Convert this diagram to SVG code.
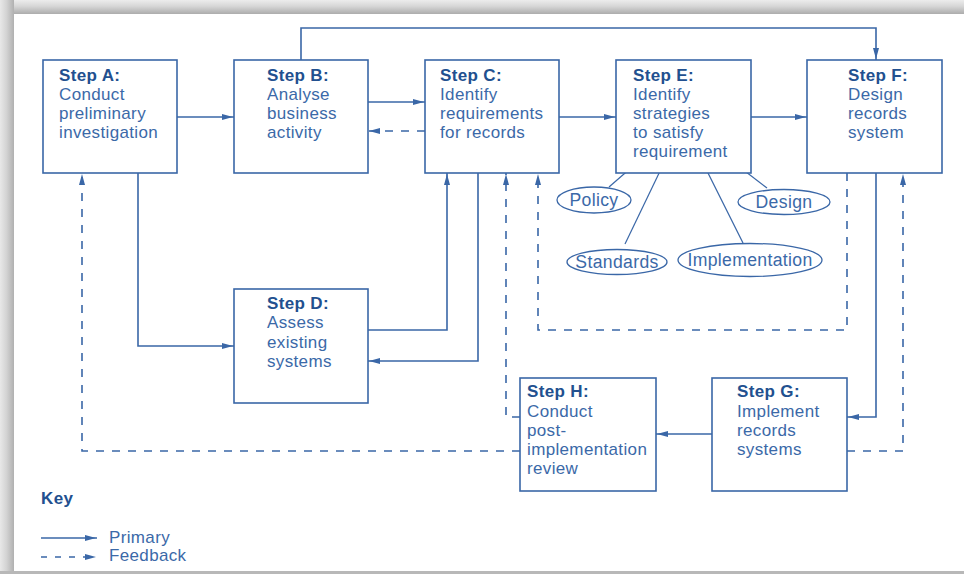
<svg xmlns="http://www.w3.org/2000/svg" width="964" height="574" viewBox="0 0 964 574">
<defs>
<linearGradient id="gTop" x1="0" y1="0" x2="0" y2="1"><stop offset="0" stop-color="#ececec"/><stop offset="0.45" stop-color="#d6d6d6"/><stop offset="1" stop-color="#acacac"/></linearGradient>
<linearGradient id="gLeft" x1="0" y1="0" x2="1" y2="0"><stop offset="0" stop-color="#e8e8e8"/><stop offset="0.45" stop-color="#d4d4d4"/><stop offset="1" stop-color="#b0b0b0"/></linearGradient>
<marker id="ah" markerWidth="11" markerHeight="7" refX="12" refY="3.5" orient="auto" markerUnits="userSpaceOnUse"><path d="M0,0.5 L11,3.5 L0,6.5 Z" fill="#3a67a7"/></marker>
<style>
.box{fill:#fff;stroke:#3a67a7;stroke-width:1.6}
.ell{fill:#fff;stroke:#3a67a7;stroke-width:1.3}
.ln{fill:none;stroke:#3a67a7;stroke-width:1.6}
.dl{fill:none;stroke:#3a67a7;stroke-width:1.6;stroke-dasharray:8 8}
.sp{fill:none;stroke:#3a67a7;stroke-width:1.2}
text{font-family:"Liberation Sans",Arial,sans-serif;font-size:17px;letter-spacing:0.35px}
.t{font-weight:bold;fill:#22508f}
.b{fill:#3b69a8}
.e{font-size:17.6px}
</style>
</defs>
<rect x="0" y="0" width="964" height="574" fill="#fff"/>
<rect x="0" y="0" width="964" height="14" fill="url(#gTop)"/>
<rect x="0" y="0" width="14" height="574" fill="url(#gLeft)"/>
<rect x="0" y="571" width="964" height="3" fill="#b8b8b8"/>

<g id="connectors">
<path class="ln" d="M301,60 V28 H876 V60" marker-end="url(#ah)"/>
<path class="ln" d="M177,117 H234" marker-end="url(#ah)"/>
<path class="ln" d="M368,102 H425" marker-end="url(#ah)"/>
<path class="dl" d="M425,131 H368" marker-end="url(#ah)"/>
<path class="ln" d="M559,117 H616" marker-end="url(#ah)"/>
<path class="ln" d="M751,117 H807" marker-end="url(#ah)"/>
<path class="ln" d="M138,173 V346 H234" marker-end="url(#ah)"/>
<path class="ln" d="M368,330 H447 V173" marker-end="url(#ah)"/>
<path class="ln" d="M478,173 V361 H368" marker-end="url(#ah)"/>
<path class="dl" d="M520,451 H82 V173" marker-end="url(#ah)"/>
<path class="dl" d="M520,417 H506 V173" marker-end="url(#ah)"/>
<path class="dl" d="M847,173 V330 H538 V173" marker-end="url(#ah)"/>
<path class="ln" d="M876,173 V417 H847" marker-end="url(#ah)"/>
<path class="dl" d="M847,451 H903 V173" marker-end="url(#ah)"/>
<path class="ln" d="M712,434 H656" marker-end="url(#ah)"/>
<path class="sp" d="M632,167 L609,187"/>
<path class="sp" d="M662,167 L625,244"/>
<path class="sp" d="M705,167 L743,243"/>
<path class="sp" d="M737,165 L767,188"/>
</g>

<g id="stepA"><rect class="box" x="43" y="60" width="134" height="113"/>
<text x="59" y="81" class="t">Step A:</text><text x="59" y="100" class="b">Conduct</text><text x="59" y="119" class="b">preliminary</text><text x="59" y="138" class="b">investigation</text></g>

<g id="stepB"><rect class="box" x="234" y="60" width="134" height="113"/>
<text x="267" y="81" class="t">Step B:</text><text x="267" y="100" class="b">Analyse</text><text x="267" y="119" class="b">business</text><text x="267" y="138" class="b">activity</text></g>

<g id="stepC"><rect class="box" x="425" y="60" width="134" height="113"/>
<text x="440" y="81" class="t">Step C:</text><text x="440" y="100" class="b">Identify</text><text x="440" y="119" class="b">requirements</text><text x="440" y="138" class="b">for records</text></g>

<g id="stepE"><rect class="box" x="616" y="60" width="135" height="113"/>
<text x="633" y="81" class="t">Step E:</text><text x="633" y="100" class="b">Identify</text><text x="633" y="119" class="b">strategies</text><text x="633" y="138" class="b">to satisfy</text><text x="633" y="157" class="b">requirement</text></g>

<g id="stepF"><rect class="box" x="807" y="60" width="135" height="113"/>
<text x="848" y="81" class="t">Step F:</text><text x="848" y="100" class="b">Design</text><text x="848" y="119" class="b">records</text><text x="848" y="138" class="b">system</text></g>

<g id="stepD"><rect class="box" x="234" y="289" width="134" height="114"/>
<text x="267" y="309" class="t">Step D:</text><text x="267" y="328" class="b">Assess</text><text x="267" y="348" class="b">existing</text><text x="267" y="367" class="b">systems</text></g>

<g id="stepH"><rect class="box" x="520" y="378" width="136" height="113"/>
<text x="527" y="397" class="t">Step H:</text><text x="527" y="417" class="b">Conduct</text><text x="527" y="436" class="b">post-</text><text x="527" y="455" class="b">implementation</text><text x="527" y="474" class="b">review</text></g>

<g id="stepG"><rect class="box" x="712" y="378" width="135" height="113"/>
<text x="737" y="397" class="t">Step G:</text><text x="737" y="417" class="b">Implement</text><text x="737" y="436" class="b">records</text><text x="737" y="455" class="b">systems</text></g>

<g id="policy"><ellipse class="ell" cx="594" cy="200" rx="37" ry="13"/><text x="594" y="206" class="b e" text-anchor="middle">Policy</text></g>
<g id="standards"><ellipse class="ell" cx="617" cy="262" rx="50" ry="12.5"/><text x="617" y="268" class="b e" text-anchor="middle">Standards</text></g>
<g id="implementation"><ellipse class="ell" cx="750" cy="260" rx="72" ry="16.5"/><text x="750" y="266" class="b e" text-anchor="middle">Implementation</text></g>
<g id="design"><ellipse class="ell" cx="784" cy="202" rx="46" ry="12.5"/><text x="784" y="208" class="b e" text-anchor="middle">Design</text></g>

<g id="key">
<text x="41" y="504" class="t">Key</text>
<path class="ln" d="M41,538 H97" marker-end="url(#ah)"/>
<text x="109" y="543" class="b">Primary</text>
<path class="dl" d="M41,557 H97" style="stroke-dasharray:6 8" marker-end="url(#ah)"/>
<text x="109" y="561" class="b">Feedback</text>
</g>
</svg>
